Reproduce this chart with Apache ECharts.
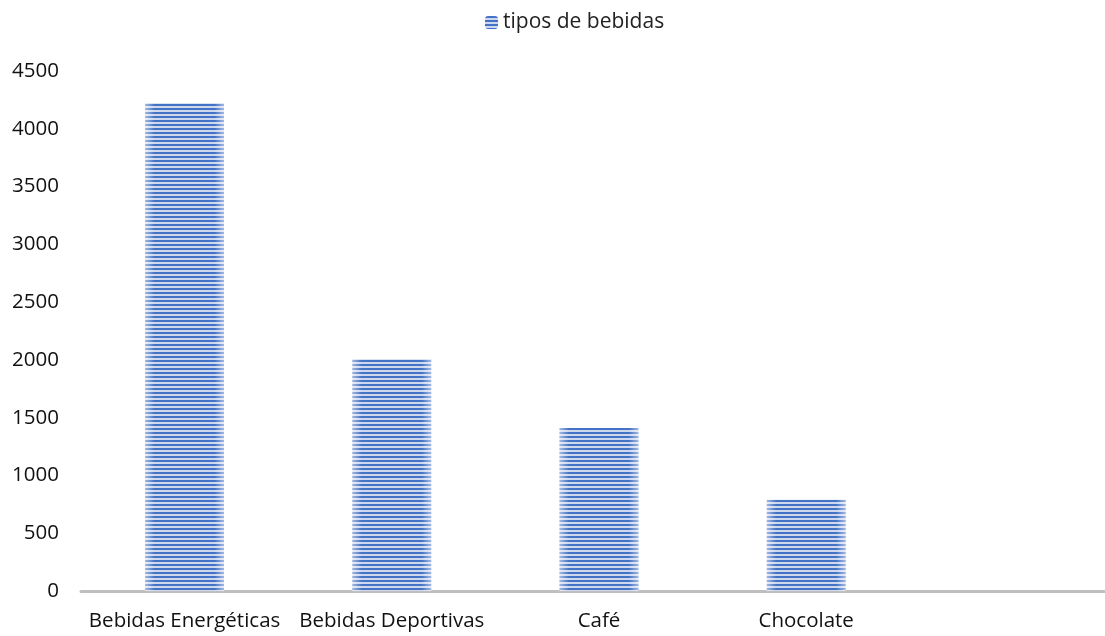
<!DOCTYPE html>
<html>
<head>
<meta charset="utf-8">
<script src="https://cdn.jsdelivr.net/npm/echarts@6/dist/echarts.min.js"></script>
<style>
  html, body { margin: 0; padding: 0; background: #fff; overflow: hidden; }
  /* canvas is a little wider than the window; the plot runs past the right edge */
  #chart { width: 1120px; height: 636px; }
</style>
</head>
<body>
<div id="chart"></div>
<script>
// Categories and values
const categories = ['Bebidas Energéticas', 'Bebidas Deportivas', 'Café', 'Chocolate', ''];
const bebidas = [4220, 2005, 1410, 790, null];
const seriesName = 'tipos de bebidas';
const yTicks = [0, 500, 1000, 1500, 2000, 2500, 3000, 3500, 4000, 4500];

// Horizontal stripe fill for the bars
function stripePattern() {
  const c = document.createElement('canvas');
  c.width = 4; c.height = 4;
  const g = c.getContext('2d');
  g.fillStyle = '#cdd8ef';
  g.fillRect(0, 0, 4, 4);
  g.fillStyle = '#4472c4';
  g.fillRect(0, 0, 4, 2);
  return { image: c, repeat: 'repeat' };
}

const FONT = 'Open Sans';
const chart = echarts.init(document.getElementById('chart'), null, { renderer: 'canvas' });
chart.setOption({
  animation: false,
  backgroundColor: '#ffffff',
  textStyle: { fontFamily: FONT },
  legend: {
    data: [seriesName],
    top: 7,
    left: 480,
    itemWidth: 13,
    itemHeight: 13,
    itemGap: 5,
    textStyle: { fontFamily: FONT, fontSize: 21, color: '#222' }
  },
  grid: { left: 81, top: 71, width: 1036, height: 520, containLabel: false },
  xAxis: {
    type: 'category',
    data: categories,
    axisLine: { lineStyle: { color: '#bfbfbf', width: 3 } },
    axisTick: { show: false },
    axisLabel: { color: '#111', fontSize: 20.5, fontFamily: FONT, margin: 20, interval: 0 }
  },
  yAxis: {
    type: 'value',
    min: yTicks[0],
    max: yTicks[yTicks.length - 1],
    interval: 500,
    axisLine: { show: false },
    axisTick: { show: false },
    splitLine: { show: false },
    axisLabel: {
      color: '#111', fontSize: 20.5, fontFamily: FONT, margin: 22,
      formatter: v => String(v)
    }
  },
  series: [
    {
      name: seriesName,
      type: 'bar',
      data: bebidas,
      barWidth: '38%',
      itemStyle: { color: stripePattern() }
    },
    {
      // soft light edges on each bar
      type: 'bar',
      data: bebidas,
      barWidth: '38%',
      barGap: '-100%',
      silent: true,
      itemStyle: {
        color: {
          type: 'linear', x: 0, y: 0, x2: 1, y2: 0,
          colorStops: [
            { offset: 0, color: 'rgba(255,255,255,0.5)' },
            { offset: 0.12, color: 'rgba(255,255,255,0)' },
            { offset: 0.88, color: 'rgba(255,255,255,0)' },
            { offset: 1, color: 'rgba(255,255,255,0.5)' }
          ]
        }
      }
    }
  ]
});
</script>
</body>
</html>
